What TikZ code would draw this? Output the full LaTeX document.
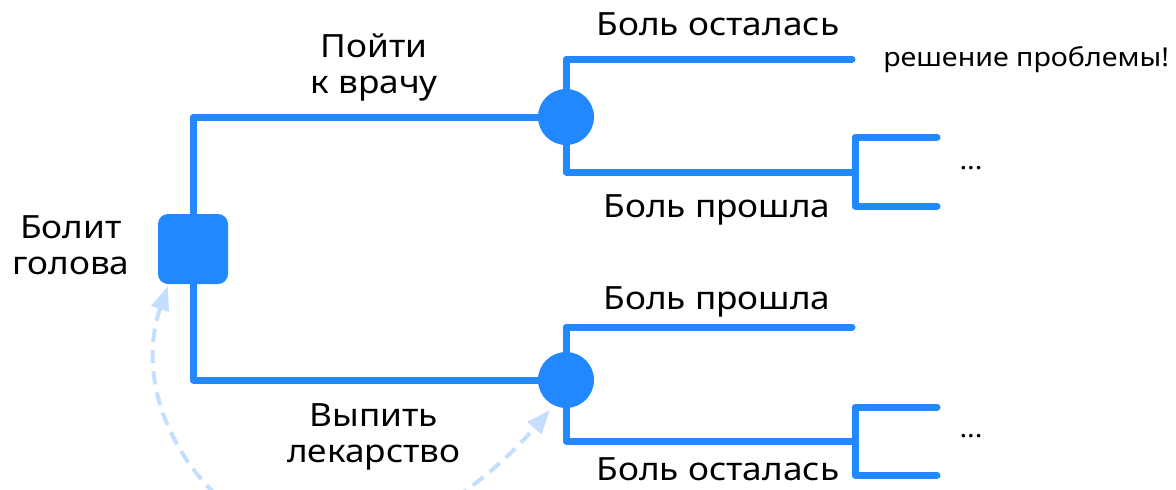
\documentclass[tikz,border=0pt]{standalone}
\usepackage{fontspec}
\setmainfont{Noto Sans}[FakeStretch=1.1]
\usetikzlibrary{arrows.meta}
\definecolor{mainblue}{RGB}{33,136,255}
\definecolor{lightblue}{RGB}{196,222,255}
\begin{document}
\begin{tikzpicture}[x=0.75pt,y=-0.75pt,
  branch/.style={draw=mainblue,line width=5.25pt,line join=round,line cap=round},
  decision/.style={fill=mainblue,rounded corners=7.5pt,minimum width=52.5pt,minimum height=52.5pt,inner sep=0pt},
  chance/.style={circle,fill=mainblue,minimum size=42pt,inner sep=0pt},
  lbl/.style={font=\fontsize{24pt}{27pt}\selectfont,align=center,inner sep=0pt},
  small/.style={font=\fontsize{19.5pt}{23pt}\selectfont,inner sep=0pt},
  loopback/.style={draw=lightblue,line width=3pt,dash pattern=on 10pt off 6pt,
    {Triangle[length=18pt,width=13.5pt]}-{Triangle[length=18pt,width=13.5pt]}}
]
\useasboundingbox (0,0) rectangle (1176,489);
\clip (0,0) rectangle (1176,489);

% nodes
\node[decision] (sq) at (193,249) {};
\node[chance] (c1) at (566,117) {};
\node[chance] (c2) at (566,380) {};

% end points
\coordinate (t1) at (852,59);
\coordinate (b1) at (855,172);
\coordinate (bt1) at (937,137);
\coordinate (bb1) at (937,206);
\coordinate (t2) at (852,327);
\coordinate (b2) at (855,441);
\coordinate (bt2) at (937,407);
\coordinate (bb2) at (937,475);

% branches
\draw[branch] (sq.north) |- (c1.west);
\draw[branch] (sq.south) |- (c2.west);
\draw[branch] (c1.north) |- (t1);
\draw[branch] (c1.south) |- (b1);
\draw[branch] (bt1) -| (b1) |- (bb1);
\draw[branch] (c2.north) |- (t2);
\draw[branch] (c2.south) |- (b2);
\draw[branch] (bt2) -| (b2) |- (bb2);

% dashed loop arrow
\draw[loopback] ([shift={(10,2)}]sq.south west)
  .. controls (124,414) and (222,545) .. (330,545)
  .. controls (400,545) and (484,486) .. ([shift={(-16,30)}]c2.center);

% labels
\node[lbl,anchor=base] (l1) at (718,35.5) {Боль осталась};
\node[lbl,anchor=base] (l2) at (374,93) {Пойти\\к врачу};
\node[small,anchor=base west] (l3) at (883,66) {решение проблемы!};
\node[small,anchor=base] (l4) at (971,169) {...};
\node[lbl,anchor=base] (l5) at (717,217) {Боль прошла};
\node[lbl,anchor=base] (l6) at (71,274) {Болит\\голова};
\node[lbl,anchor=base] (l7) at (717,309) {Боль прошла};
\node[lbl,anchor=base] (l8) at (374,462) {Выпить\\лекарство};
\node[small,anchor=base] (l9) at (971,437) {...};
\node[lbl,anchor=base,text depth=0pt] (l10) at (718,480) {Боль осталась};
\end{tikzpicture}
\end{document}
